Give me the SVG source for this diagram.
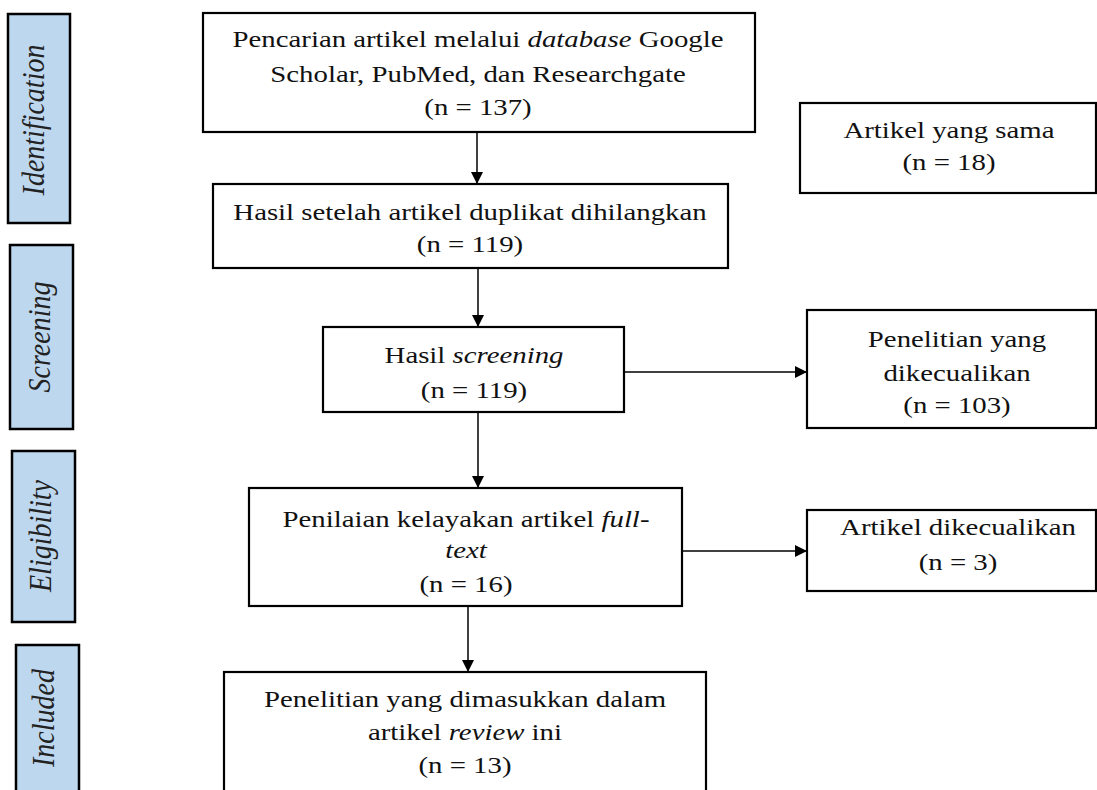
<svg xmlns="http://www.w3.org/2000/svg" width="1097" height="790" viewBox="0 0 1097 790">
<defs>
<style>
.box{fill:#fff;stroke:#000;stroke-width:2.2}
.phase{fill:#bdd7ee;stroke:#000;stroke-width:2.5}
.t{font-family:"Liberation Serif","Times New Roman",serif;font-size:24px;fill:#111;text-anchor:middle}
.pt{font-family:"Liberation Serif","Times New Roman",serif;font-style:italic;font-size:28px;fill:#222;text-anchor:middle}
.i{font-style:italic}
.c{stroke:#000;stroke-width:1.5;fill:none}
</style>
<marker id="ah" viewBox="0 0 10 10" refX="10" refY="5" markerWidth="12" markerHeight="12" markerUnits="userSpaceOnUse" orient="auto">
<path d="M0,0 L10,5 L0,10 z" fill="#000"/>
</marker>
</defs>
<rect width="1097" height="790" fill="#fff"/>

<g id="phase-identification">
<rect class="phase" x="8" y="14" width="62" height="209"/>
<text class="pt" transform="translate(44,120) scale(1.12,1) rotate(-90)">Identification</text>
</g>
<g id="phase-screening">
<rect class="phase" x="10" y="245" width="63" height="184"/>
<text class="pt" transform="translate(50,337) scale(1.12,1) rotate(-90)">Screening</text>
</g>
<g id="phase-eligibility">
<rect class="phase" x="12" y="451" width="63" height="171"/>
<text class="pt" transform="translate(51,536) scale(1.12,1) rotate(-90)">Eligibility</text>
</g>
<g id="phase-included">
<rect class="phase" x="16" y="645" width="63" height="160"/>
<text class="pt" transform="translate(54,718) scale(1.12,1) rotate(-90)">Included</text>
</g>

<g id="connectors">
<line class="c" x1="477" y1="132" x2="477" y2="184" marker-end="url(#ah)"/>
<line class="c" x1="478" y1="268" x2="478" y2="327" marker-end="url(#ah)"/>
<line class="c" x1="624" y1="372" x2="807" y2="372" marker-end="url(#ah)"/>
<line class="c" x1="478" y1="412" x2="478" y2="488" marker-end="url(#ah)"/>
<line class="c" x1="682" y1="551" x2="807" y2="551" marker-end="url(#ah)"/>
<line class="c" x1="468" y1="606" x2="468" y2="672" marker-end="url(#ah)"/>
</g>

<g id="node-search">
<rect class="box" x="203" y="13" width="552" height="119"/>
<g transform="translate(478,0) scale(1.2,1)">
<text class="t" x="0" y="47">Pencarian artikel melalui <tspan class="i">database</tspan> Google</text>
<text class="t" x="0" y="82">Scholar, PubMed, dan Researchgate</text>
<text class="t" x="0" y="115">(n = 137)</text>
</g>
</g>
<g id="node-duplicate">
<rect class="box" x="800" y="103" width="296" height="90"/>
<g transform="translate(949,0) scale(1.2,1)">
<text class="t" x="0" y="138">Artikel yang sama</text>
<text class="t" x="0" y="170">(n = 18)</text>
</g>
</g>
<g id="node-dedup">
<rect class="box" x="213" y="184" width="515" height="84"/>
<g transform="translate(470,0) scale(1.2,1)">
<text class="t" x="0" y="220">Hasil setelah artikel duplikat dihilangkan</text>
<text class="t" x="0" y="252">(n = 119)</text>
</g>
</g>
<g id="node-screening">
<rect class="box" x="323" y="327" width="301" height="85"/>
<g transform="translate(474,0) scale(1.2,1)">
<text class="t" x="0" y="363">Hasil <tspan class="i">screening</tspan></text>
<text class="t" x="0" y="398">(n = 119)</text>
</g>
</g>
<g id="node-excluded-screening">
<rect class="box" x="807" y="310" width="289" height="118"/>
<g transform="translate(957,0) scale(1.2,1)">
<text class="t" x="0" y="347">Penelitian yang</text>
<text class="t" x="0" y="381">dikecualikan</text>
<text class="t" x="0" y="413">(n = 103)</text>
</g>
</g>
<g id="node-eligibility">
<rect class="box" x="249" y="488" width="433" height="118"/>
<g transform="translate(466,0) scale(1.2,1)">
<text class="t" x="0" y="527">Penilaian kelayakan artikel <tspan class="i">full</tspan>-</text>
<text class="t i" x="0" y="558">text</text>
<text class="t" x="0" y="592">(n = 16)</text>
</g>
</g>
<g id="node-excluded-eligibility">
<rect class="box" x="807" y="510" width="289" height="81"/>
<g transform="translate(958,0) scale(1.2,1)">
<text class="t" x="0" y="535">Artikel dikecualikan</text>
<text class="t" x="0" y="570">(n = 3)</text>
</g>
</g>
<g id="node-included">
<rect class="box" x="224" y="672" width="482" height="130"/>
<g transform="translate(465,0) scale(1.2,1)">
<text class="t" x="0" y="707">Penelitian yang dimasukkan dalam</text>
<text class="t" x="0" y="740">artikel <tspan class="i">review</tspan> ini</text>
<text class="t" x="0" y="773">(n = 13)</text>
</g>
</g>
</svg>
